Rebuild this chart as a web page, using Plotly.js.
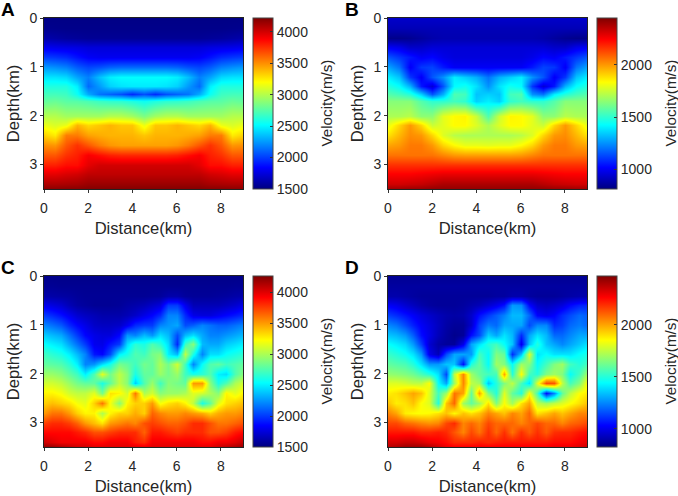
<!DOCTYPE html>
<html><head><meta charset="utf-8">
<script src="https://cdn.plot.ly/plotly-3.0.1.min.js"></script>
<style>html,body{margin:0;padding:0;background:#fff}#c{width:678px;height:496px}</style>
</head><body><div id="c"></div>
<script>
const depthsTop=[0,.2,.4,.6,.8,1,1.2,1.4,1.55,1.7,2,2.2,2.4,2.6,2.8,3,3.2,3.4,3.5];
const depthsBottom=[0,.2,.4,.6,.8,1,1.2,1.4,1.6,1.8,2,2.2,2.4,2.6,2.8,3,3.2,3.4,3.5];
const xCoarse=[0,.5,1,1.5,2,2.5,3,3.5,4,4.5,5,5.5,6,6.5,7,7.5,8,8.5,9];
const xFine=[0,.375,.75,1.125,1.5,1.875,2.25,2.625,3,3.375,3.75,4.125,4.5,4.875,5.25,5.625,6,6.375,6.75,7.125,7.5,7.875,8.25,8.625,9];
const velA=[
[1520,1520,1520,1520,1520,1520,1520,1520,1520,1520,1520,1520,1520,1520,1520,1520,1520,1520,1520],
[1540,1535,1530,1530,1530,1530,1530,1530,1530,1530,1530,1530,1530,1530,1530,1530,1530,1535,1540],
[1620,1600,1580,1570,1560,1560,1560,1560,1560,1560,1560,1560,1560,1560,1560,1570,1580,1600,1620],
[1800,1780,1770,1760,1740,1740,1740,1740,1740,1740,1740,1740,1740,1740,1740,1760,1770,1780,1800],
[2000,1980,1950,1880,1820,1800,1800,1800,1800,1800,1800,1800,1800,1800,1820,1880,1950,1980,2000],
[2250,2220,2180,2080,2020,2050,2100,2120,2120,2120,2120,2120,2100,2050,2020,2080,2180,2220,2250],
[2450,2450,2420,2280,2180,2350,2480,2520,2520,2520,2520,2520,2480,2350,2180,2280,2420,2450,2450],
[2600,2600,2600,2480,2120,2250,2400,2450,2470,2470,2470,2450,2400,2250,2120,2480,2600,2600,2600],
[2700,2700,2680,2550,2300,2150,2100,2050,1950,2050,1950,2050,2100,2150,2300,2550,2680,2700,2700],
[2780,2800,2760,2750,2720,2680,2650,2640,2600,2550,2600,2640,2650,2680,2720,2750,2760,2800,2780],
[3000,3000,2950,2950,2950,2950,3000,3000,2950,2850,2950,3000,3000,2950,2950,2950,2950,3000,3000],
[3150,3100,3150,3400,3300,3350,3400,3350,3350,3150,3350,3350,3400,3350,3300,3400,3150,3100,3150],
[3320,3250,3550,3550,3450,3420,3400,3400,3400,3350,3400,3400,3400,3420,3450,3550,3550,3250,3320],
[3500,3480,3650,3750,3650,3550,3480,3450,3450,3450,3450,3450,3480,3550,3650,3750,3650,3480,3500],
[3650,3650,3750,3800,3900,3850,3800,3780,3780,3780,3780,3780,3800,3850,3900,3800,3750,3650,3650],
[3800,3800,3850,3850,3950,4000,4000,4000,4000,4000,4000,4000,4000,4000,3950,3850,3850,3800,3800],
[3950,3950,3980,4000,4050,4050,4050,4050,4050,4050,4050,4050,4050,4050,4050,4000,3980,3950,3950],
[4100,4100,4110,4120,4150,4150,4150,4150,4150,4150,4150,4150,4150,4150,4150,4120,4110,4100,4100],
[4190,4190,4200,4200,4210,4210,4210,4210,4210,4210,4210,4210,4210,4210,4210,4200,4200,4190,4190]];
const velB=[
[930,930,930,930,930,930,930,930,930,930,930,930,930,930,930,930,930,930,930],
[900,900,900,900,900,900,900,900,900,900,900,900,900,900,900,900,900,900,900],
[830,830,840,860,880,890,890,890,890,890,890,890,890,890,880,860,840,830,830],
[1000,980,930,930,950,950,950,950,950,950,950,950,950,950,950,930,930,980,1000],
[1150,1100,1050,1000,1020,980,960,960,960,960,960,960,960,980,1020,1000,1050,1100,1150],
[1280,1200,1000,1100,1120,1050,1000,1000,1000,1000,1000,1000,1000,1050,1120,1100,1000,1200,1280],
[1400,1330,1100,1000,1150,1250,1400,1350,1300,1200,1300,1350,1400,1250,1150,1000,1100,1330,1400],
[1480,1430,1300,1050,950,1150,1420,1450,1380,1250,1380,1450,1420,1100,950,1050,1300,1430,1480],
[1560,1530,1480,1350,1150,1300,1550,1530,1330,1350,1330,1530,1550,1250,1200,1400,1480,1530,1560],
[1640,1640,1640,1560,1500,1500,1530,1500,1350,1400,1350,1500,1530,1500,1500,1560,1640,1640,1640],
[1700,1700,1720,1650,1650,1790,1840,1850,1750,1550,1750,1850,1840,1790,1650,1650,1720,1700,1700],
[1800,1900,2000,1900,1750,1790,1840,1840,1780,1700,1780,1840,1840,1790,1750,1900,2000,1900,1800],
[1880,1950,2020,2000,1900,1780,1720,1700,1700,1700,1700,1700,1720,1780,1900,2000,2020,1950,1880],
[1980,2000,2050,2050,2000,1900,1840,1800,1800,1790,1800,1800,1840,1900,2000,2050,2050,2000,1980],
[2060,2060,2060,2060,2060,2030,2000,1990,1990,1990,1990,1990,2000,2030,2060,2060,2060,2060,2060],
[2170,2170,2170,2170,2170,2170,2170,2170,2170,2170,2170,2170,2170,2170,2170,2170,2170,2170,2170],
[2250,2250,2250,2260,2270,2280,2280,2280,2280,2280,2280,2280,2280,2280,2270,2260,2250,2250,2250],
[2320,2320,2330,2340,2360,2380,2380,2380,2380,2380,2380,2380,2380,2380,2360,2340,2330,2320,2320],
[2400,2400,2410,2410,2420,2420,2420,2420,2420,2420,2420,2420,2420,2420,2420,2410,2410,2400,2400]];
const velC=[
[1530,1530,1530,1530,1530,1530,1530,1530,1530,1530,1530,1530,1530,1530,1530,1530,1530,1530,1530,1530,1530,1530,1530,1530,1530],
[1560,1560,1550,1550,1550,1550,1550,1550,1550,1550,1550,1550,1550,1550,1550,1550,1550,1550,1550,1550,1550,1550,1550,1560,1560],
[1620,1610,1600,1590,1570,1560,1560,1560,1560,1560,1560,1560,1560,1570,1580,1620,1620,1580,1570,1570,1570,1580,1590,1610,1620],
[1800,1760,1720,1650,1600,1580,1560,1560,1560,1570,1600,1620,1650,1700,1750,2000,2000,1800,1650,1650,1650,1650,1680,1720,1780],
[2000,1950,1880,1800,1720,1680,1650,1620,1620,1620,1650,1700,1780,1850,1950,2200,2200,1950,1780,1750,1750,1800,1850,1900,1950],
[2200,2150,2080,1950,1850,1780,1700,1680,1680,1700,1800,1950,2000,2000,2200,2250,2300,2050,2100,2200,2150,2100,2100,2150,2200],
[2400,2350,2300,2150,2000,1850,1780,1750,1750,1850,2250,2200,2350,2250,2450,2350,2050,2350,2450,2300,2200,2200,2250,2300,2350],
[2550,2500,2450,2300,2150,2000,1800,1780,1900,2000,2450,2650,2600,2750,2650,2450,1950,2700,2900,2350,2300,2300,2400,2450,2500],
[2700,2650,2600,2500,2350,2200,1900,1850,2050,2500,2600,2750,2700,2850,2900,2500,2350,3050,2600,2200,2450,2450,2550,2600,2650],
[2800,2780,2750,2650,2500,2200,2250,2450,2600,2850,2800,2700,2850,2800,3000,2850,3100,2700,2200,2550,2750,2800,2700,2750,2800],
[2950,2950,2900,2800,2700,2500,2750,3150,2850,3050,2900,2600,2800,2800,2950,2850,2950,2700,2600,2650,2750,2500,2450,2750,2900],
[3100,3100,3050,2950,2850,2800,2800,2600,2800,3050,2900,2400,2750,2950,2700,2900,2850,2800,3500,3500,2900,2600,2750,3000,3100],
[3250,3250,3200,3100,3050,3050,3150,2850,3300,3250,3100,3600,3000,3100,2900,2950,2950,3000,3150,3100,3000,2900,3250,3150,3250],
[3350,3400,3350,3300,3200,3150,3350,3600,3200,2900,3250,3350,3350,3500,3200,3300,3350,3250,3050,2600,2800,3150,3300,3350,3400],
[3500,3600,3600,3500,3350,3250,3250,3000,3250,3350,3350,3450,3350,3650,3550,3500,3500,3550,3500,3450,3350,3450,3500,3500,3550],
[3750,3800,3800,3750,3650,3500,3400,3300,3500,3550,3600,3550,3700,3750,3700,3650,3650,3700,3800,3800,3700,3600,3600,3650,3700],
[3900,3900,3900,3900,3850,3800,3700,3700,3750,3800,3800,3800,3650,3850,3850,3800,3750,3800,3800,3800,3700,3700,3750,3850,3900],
[4050,4000,3950,3950,3950,3950,3900,3900,3950,3950,3950,3850,3800,3950,3950,3950,3950,3950,3950,3900,3900,3950,3950,4000,4080],
[4200,4200,4150,4100,4050,4050,4000,4000,4000,4000,4000,4000,3980,4000,4000,4000,4000,4000,4000,4000,4000,4050,4100,4150,4200]];
const velD=[
[860,860,860,860,860,860,860,860,860,860,860,860,860,860,860,860,860,860,860,860,860,860,860,860,860],
[880,880,880,880,880,880,880,880,880,880,880,880,880,880,880,880,880,880,880,880,880,880,880,880,880],
[900,900,890,880,870,870,870,870,870,870,870,870,870,880,880,900,900,880,870,870,870,880,890,900,900],
[1020,1000,960,930,900,880,870,870,870,880,900,920,960,1000,1060,1280,1260,1040,950,930,950,980,1040,1080,1090],
[1130,1100,1060,1020,980,950,920,900,890,900,950,1050,1120,1180,1240,1330,1330,1200,1030,1000,1030,1100,1150,1200,1180],
[1250,1220,1150,1080,1020,980,930,890,870,870,950,1130,1230,1200,1300,1300,1300,1150,1250,1250,1100,1130,1200,1230,1200],
[1350,1330,1280,1180,1050,990,920,880,850,870,1050,1150,1370,1300,1400,1330,1100,1300,1400,1330,1200,1200,1250,1300,1300],
[1450,1420,1380,1280,1130,960,890,870,870,1000,1300,1400,1500,1550,1450,1350,1000,1350,1500,1350,1300,1250,1300,1350,1400],
[1530,1500,1460,1400,1280,1000,920,1150,1300,1300,1280,1550,1450,1650,1600,1100,1350,1800,1400,1450,1400,1400,1400,1450,1480],
[1600,1580,1560,1500,1400,1280,1280,1350,1350,1050,1500,1600,1450,1700,1650,1450,1700,1650,1450,1550,1650,1700,1550,1500,1550],
[1680,1670,1650,1620,1560,1500,1400,1150,1750,2050,1700,1600,1550,1550,2000,1500,1850,1550,1500,1650,1700,1650,1450,1550,1700],
[1800,1800,1780,1750,1750,1850,1450,1300,1700,2050,1750,1700,1350,1500,1650,1750,1550,1400,1800,2150,2130,1750,1550,1650,1850],
[1880,1900,1950,2000,1950,1800,1550,1700,2080,2000,1600,2000,1650,1500,1800,1600,1500,1850,1550,1050,1250,1600,1750,1850,1880],
[1950,1880,1900,1950,1850,1800,1500,1950,2100,1700,1600,1700,1900,1650,1850,1700,1900,2000,1750,1700,1750,1800,1850,1900,1950],
[2050,2000,1880,1860,1850,1860,1900,1950,1860,1950,1900,1950,2050,2000,1950,2050,2000,2100,1900,1950,2000,1950,2000,2050,2050],
[2150,2150,2100,2080,2050,2030,2050,2150,2200,2050,2100,2050,2150,2100,2100,2100,2050,2100,2150,2100,2100,2050,2100,2120,2150],
[2230,2230,2230,2230,2200,2200,2220,2200,2130,2050,2150,2080,2190,2100,2190,2080,2190,2120,2190,2120,2190,2200,2200,2230,2250],
[2330,2330,2350,2350,2330,2300,2280,2250,2200,2200,2200,2220,2200,2220,2230,2230,2230,2230,2230,2230,2250,2250,2250,2280,2300],
[2380,2400,2430,2430,2430,2400,2350,2300,2280,2280,2280,2280,2280,2280,2280,2280,2280,2280,2280,2280,2300,2300,2300,2320,2350]];
const panelLabels=["A","B","C","D"];
const tickLeft=[1500,2000,2500,3000,3500,4000];
const tickRight=[1000,1500,2000];
const rangeA=[1500,4220],rangeB=[810,2450],rangeC=[1500,4260],rangeD=[827,2470];
const jet=[[0,'#00007f'],[.125,'#0000ff'],[.375,'#00ffff'],[.625,'#ffff00'],[.875,'#ff0000'],[1,'#7f0000']];
const W=678,H=496,txt='#262626',font='"Liberation Sans",Arial,sans-serif';
const panels=[
 {z:velA,x:xCoarse,y:depthsTop,r:rangeA,t:tickLeft,l:44,top:18},
 {z:velB,x:xCoarse,y:depthsTop,r:rangeB,t:tickRight,l:388,top:18},
 {z:velC,x:xFine,y:depthsBottom,r:rangeC,t:tickLeft,l:44,top:276},
 {z:velD,x:xFine,y:depthsBottom,r:rangeD,t:tickRight,l:388,top:276}];
const data=[],layout={width:W,height:H,margin:{l:0,r:0,t:0,b:0},paper_bgcolor:'#fff',plot_bgcolor:'#fff',showlegend:false,font:{family:font,size:14,color:txt},annotations:[]};
panels.forEach((p,i)=>{
 const n=i===0?'':String(i+1);
 const pw=199,ph=171;
 data.push({type:'heatmap',x:p.x,y:p.y,z:p.z,zmin:p.r[0],zmax:p.r[1],zsmooth:'best',colorscale:jet,xaxis:'x'+n,yaxis:'y'+n,
  colorbar:{x:(p.l+pw+10)/W,xanchor:'left',xpad:0,ypad:0,thickness:20,thicknessmode:'pixels',len:ph/H,lenmode:'fraction',y:1-(p.top+ph)/H,yanchor:'bottom',
   tickmode:'array',tickvals:p.t,ticktext:p.t.map(String),ticks:'inside',ticklen:3,tickcolor:'#333',tickfont:{family:font,size:14,color:txt},outlinecolor:'#444',outlinewidth:1}});
 const ax={showgrid:false,zeroline:false,showline:true,mirror:true,linecolor:'#222',linewidth:1,ticks:'outside',ticklen:3,tickcolor:'#333',tickfont:{family:font,size:14,color:txt},automargin:false};
 layout['xaxis'+n]=Object.assign({},ax,{domain:[p.l/W,(p.l+pw)/W],range:[0,9],anchor:'y'+n,tickmode:'array',tickvals:[0,2,4,6,8],ticklabelstandoff:3,title:{text:'Distance(km)',standoff:7,font:{family:font,size:16.6,color:txt}}});
 layout['yaxis'+n]=Object.assign({},ax,{domain:[1-(p.top+ph)/H,1-p.top/H],range:[3.5,0],anchor:'x'+n,tickmode:'array',tickvals:[0,1,2,3],title:{text:'Depth(km)',standoff:5,font:{family:font,size:16.6,color:txt}}});
 layout.annotations.push({text:'<b>'+panelLabels[i]+'</b>',xref:'paper',yref:'paper',x:(p.l-36)/W,y:1-(p.top-9)/H,xanchor:'center',yanchor:'middle',showarrow:false,font:{family:font,size:19,color:'#000'}});
 layout.annotations.push({text:'Velocity(m/s)',xref:'paper',yref:'paper',x:(p.l+pw+83)/W,y:1-(p.top+ph/2)/H,xanchor:'center',yanchor:'middle',textangle:-90,showarrow:false,font:{family:font,size:15.2,color:txt}});
});
Plotly.newPlot('c',data,layout,{displayModeBar:false,staticPlot:true});
</script></body></html>
